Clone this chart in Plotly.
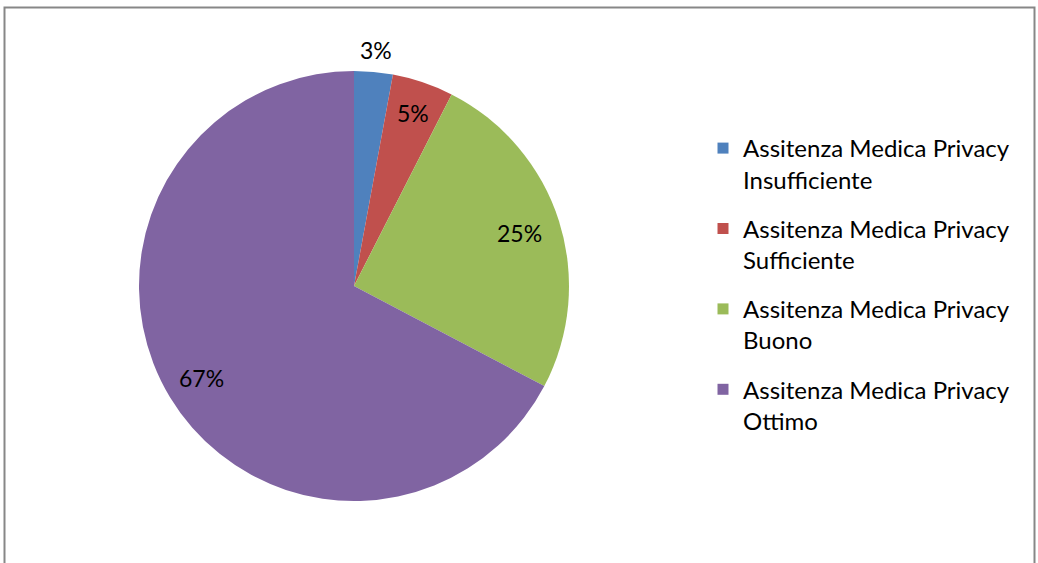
import math
import plotly.graph_objects as go

categories = ["Insufficiente", "Sufficiente", "Buono", "Ottimo"]
series_name = "Assitenza Medica Privacy"
values = [2.9, 4.6, 25.2, 67.3]
colors = ["#4F81BD", "#C0504D", "#9BBB59", "#8064A2"]
# radial position of each percentage label, as a fraction of the radius
label_r = [1.10, 0.85, 0.81, 0.83]

labels = [f"{series_name}<br>{c}" for c in categories]

W, H = 1038, 563
cx, cy, R = 354, 286, 215
FONT = "Lato, Open Sans, sans-serif"

fig = go.Figure()
fig.add_trace(go.Pie(
    labels=labels,
    values=values,
    sort=False,
    direction="clockwise",
    rotation=0,
    marker=dict(colors=colors, line=dict(width=0)),
    textinfo="none",
    hoverinfo="label+percent",
    showlegend=False,
    domain=dict(x=[(cx - R) / W, (cx + R) / W], y=[1 - (cy + R) / H, 1 - (cy - R) / H]),
))

# legend entries (one group per category so that a gap can separate them)
for lab, col in zip(labels, colors):
    fig.add_trace(go.Scatter(
        x=[None], y=[None], mode="markers", name=lab,
        legendgroup=lab, showlegend=True,
        marker=dict(symbol="square", size=11, color=col),
        hoverinfo="skip",
    ))

total = sum(values)
cum = 0
annotations = []
for v, k in zip(values, label_r):
    mid = (cum + v / 2) / total * 2 * math.pi
    cum += v
    px = cx + R * k * math.sin(mid)
    py = cy - R * k * math.cos(mid)
    annotations.append(dict(
        x=px / W, y=1 - py / H, xref="paper", yref="paper",
        text=f"{round(v / total * 100)}%", showarrow=False,
        font=dict(size=23, color="#000000", family=FONT),
        xanchor="center", yanchor="middle",
    ))

fig.update_layout(
    width=W, height=H,
    margin=dict(l=0, r=0, t=0, b=0),
    paper_bgcolor="white",
    plot_bgcolor="white",
    font=dict(family=FONT, color="#000000"),
    showlegend=True,
    xaxis=dict(visible=False),
    yaxis=dict(visible=False),
    legend=dict(
        x=703 / W, y=1 - 126 / H, xanchor="left", yanchor="top",
        font=dict(size=24, color="#000000", family=FONT),
        itemsizing="trace",
        traceorder="grouped",
        valign="top",
        tracegroupgap=15,
        bgcolor="rgba(0,0,0,0)",
    ),
    annotations=annotations,
    shapes=[dict(
        type="rect", xref="paper", yref="paper",
        x0=4.5 / W, x1=1034.5 / W, y0=-0.05, y1=1 - 7.5 / H,
        line=dict(color="#878787", width=2), fillcolor="rgba(0,0,0,0)",
    )],
)

fig.write_html(
    "out.html",
    config={"displayModeBar": False},
    post_script="document.body.style.margin='0';",
)
